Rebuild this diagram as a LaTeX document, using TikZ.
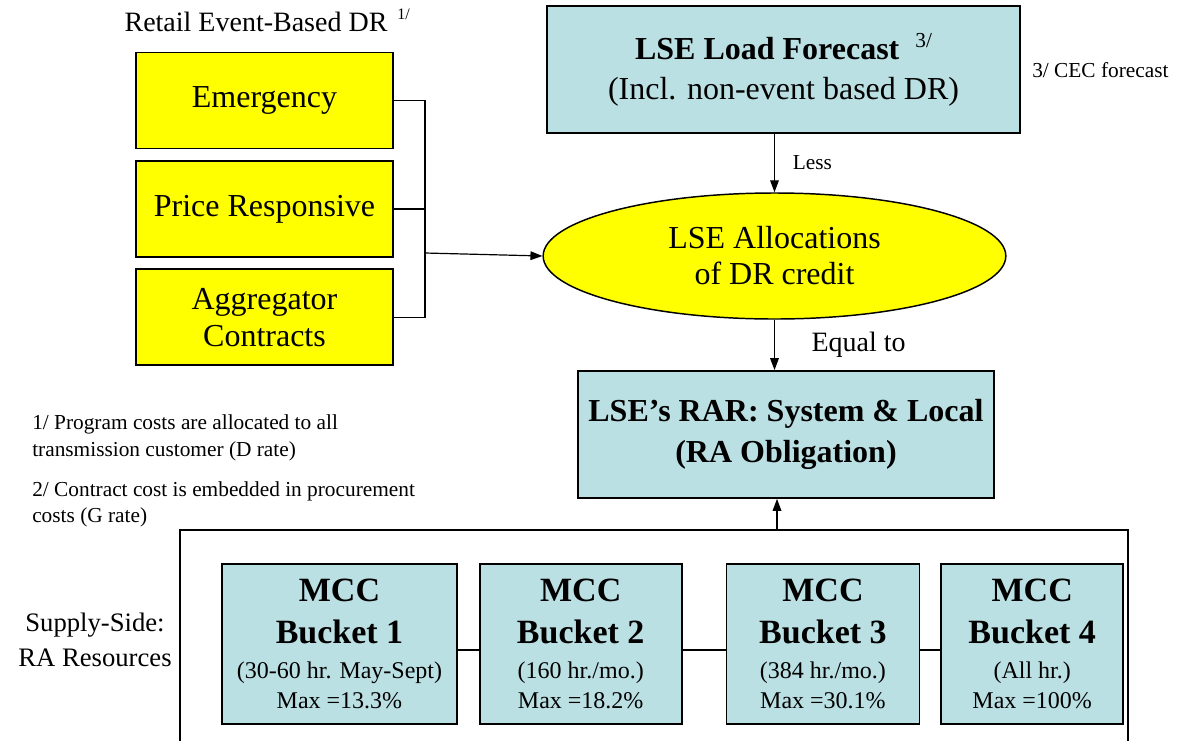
\documentclass[tikz,border=0pt]{standalone}
\usepackage{fontspec}
\setmainfont{LiberationSerif}[Extension=.ttf, UprightFont=*-Regular, BoldFont=*-Bold, ItalicFont=*-Italic, BoldItalicFont=*-BoldItalic]
\usetikzlibrary{positioning,shapes.geometric,arrows.meta}
\definecolor{raBlue}{RGB}{187,224,227}
\definecolor{drYellow}{RGB}{255,255,0}

\begin{document}
\begin{tikzpicture}[x=0.75pt,y=-0.75pt,
    >={Triangle[length=9pt,width=6.5pt]},
    yellownode/.style={rectangle, draw=black, fill=drYellow, line width=1.3pt, minimum width=192.75pt, minimum height=72pt, inner sep=2pt, align=center, font=\fontsize{24}{28}\selectfont},
    bluenode/.style={rectangle, draw=black, fill=raBlue, line width=1.3pt, inner sep=2pt, align=center},
    bucketnode/.style={bluenode, minimum height=120pt, font=\fontsize{18}{22.5}\selectfont},
    ovalnode/.style={ellipse, draw=black, fill=drYellow, line width=1.1pt, minimum width=347pt, minimum height=94.5pt, inner sep=0pt, align=center, font=\fontsize{24}{27}\selectfont},
    notenode/.style={align=left, inner sep=0pt, font=\fontsize{16}{20}\selectfont},
    ]
    \useasboundingbox (0,0) rectangle (1185,740);
    %Nodes
    \node[inner sep=0pt, font=\fontsize{21}{24}\selectfont] (title) at (256,22) {Retail Event-Based DR};
    \node[inner sep=0pt, font=\fontsize{12}{14}\selectfont, anchor=west] (titlenote) at (397,14) {1/};
    \node[yellownode]      (emerg)  at (264.5,100.5) {Emergency};
    \node[yellownode]      (price)  [below=8pt of emerg] {Price Responsive};
    \node[yellownode]      (aggr)   [below=8pt of price] {Aggregator\\Contracts};
    \node[bluenode, minimum width=354.75pt, minimum height=95.25pt, font=\fontsize{24}{30}\selectfont] (fcst) at (783.5,69.5)
        {\textbf{LSE Load Forecast}\hspace{12pt}\raisebox{9pt}{\fontsize{16}{18}\selectfont 3/}\\(Incl. non-event based DR)};
    \node[notenode, anchor=west] (cec) at (1032,70) {3/ CEC forecast};
    \node[ovalnode]        (alloc)  at (774.5,256) {LSE Allocations\\of DR credit};
    \node[bluenode, minimum width=312pt, minimum height=95.25pt, font=\fontsize{24}{31}\selectfont\bfseries] (rar) at (786,434.5)
        {LSE's RAR: System \& Local\\(RA Obligation)};
    \node[notenode, anchor=west] (note1) at (32,438) {1/ Program costs are allocated to all\\transmission customer (D rate)};
    \node[notenode, anchor=west] (note2) at (32,504.5) {2/ Contract cost is embedded in procurement\\costs (G rate)};
    \node[align=center, inner sep=0pt, font=\fontsize{20}{26}\selectfont] (supply) at (95,640) {Supply-Side:\\RA Resources};
    \node[bucketnode, minimum width=176.25pt] (b1) at (339.5,644)
        {\fontsize{25.5}{30}\selectfont\bfseries MCC\\[9pt]\fontsize{25.5}{30}\selectfont\bfseries Bucket 1\\[3.5pt](30-60 hr. May-Sept)\\Max =13.3\%};
    \node[bucketnode, minimum width=151.5pt] (b2) [right=15.75pt of b1]
        {\fontsize{25.5}{30}\selectfont\bfseries MCC\\[9pt]\fontsize{25.5}{30}\selectfont\bfseries Bucket 2\\[3.5pt](160 hr./mo.)\\Max =18.2\%};
    \node[bucketnode, minimum width=144.75pt] (b3) [right=32.25pt of b2]
        {\fontsize{25.5}{30}\selectfont\bfseries MCC\\[9pt]\fontsize{25.5}{30}\selectfont\bfseries Bucket 3\\[3.5pt](384 hr./mo.)\\Max =30.1\%};
    \node[bucketnode, minimum width=136.5pt] (b4) [right=15pt of b3]
        {\fontsize{25.5}{30}\selectfont\bfseries MCC\\[9pt]\fontsize{25.5}{30}\selectfont\bfseries Bucket 4\\[3.5pt](All hr.)\\Max =100\%};
    \coordinate (jn) at (425,253);
    \coordinate (frame) at (777,530);

    %Lines
    \draw[line width=1pt] (180,741) -- (180,530) -- (1128,530) -- (1128,741);
    \draw[line width=0.9pt] (emerg.east) -- (emerg.east -| jn) -- (aggr.east -| jn) -- (aggr.east);
    \draw[line width=0.9pt] (price.east) -- (price.east -| jn);
    \draw[->, line width=0.9pt] (jn) -- (alloc.west);
    \draw[->, line width=0.9pt] (fcst.south -| alloc.north) -- (alloc.north) node[midway, right=10pt, font=\fontsize{16}{18}\selectfont] (less) {Less};
    \draw[->, line width=0.9pt] (alloc.south) -- (alloc.south |- rar.north) node[midway, right=24pt, font=\fontsize{21}{24}\selectfont] (equal) {Equal to};
    \draw[->, line width=0.9pt] (frame) -- (frame |- rar.south);
    \draw[line width=0.9pt] ([yshift=-4.5pt]b1.east) -- ([yshift=-4.5pt]b2.west);
    \draw[line width=0.9pt] ([yshift=-4.5pt]b2.east) -- ([yshift=-4.5pt]b3.west);
    \draw[line width=0.9pt] ([yshift=-4.5pt]b3.east) -- ([yshift=-4.5pt]b4.west);
\end{tikzpicture}
\end{document}
